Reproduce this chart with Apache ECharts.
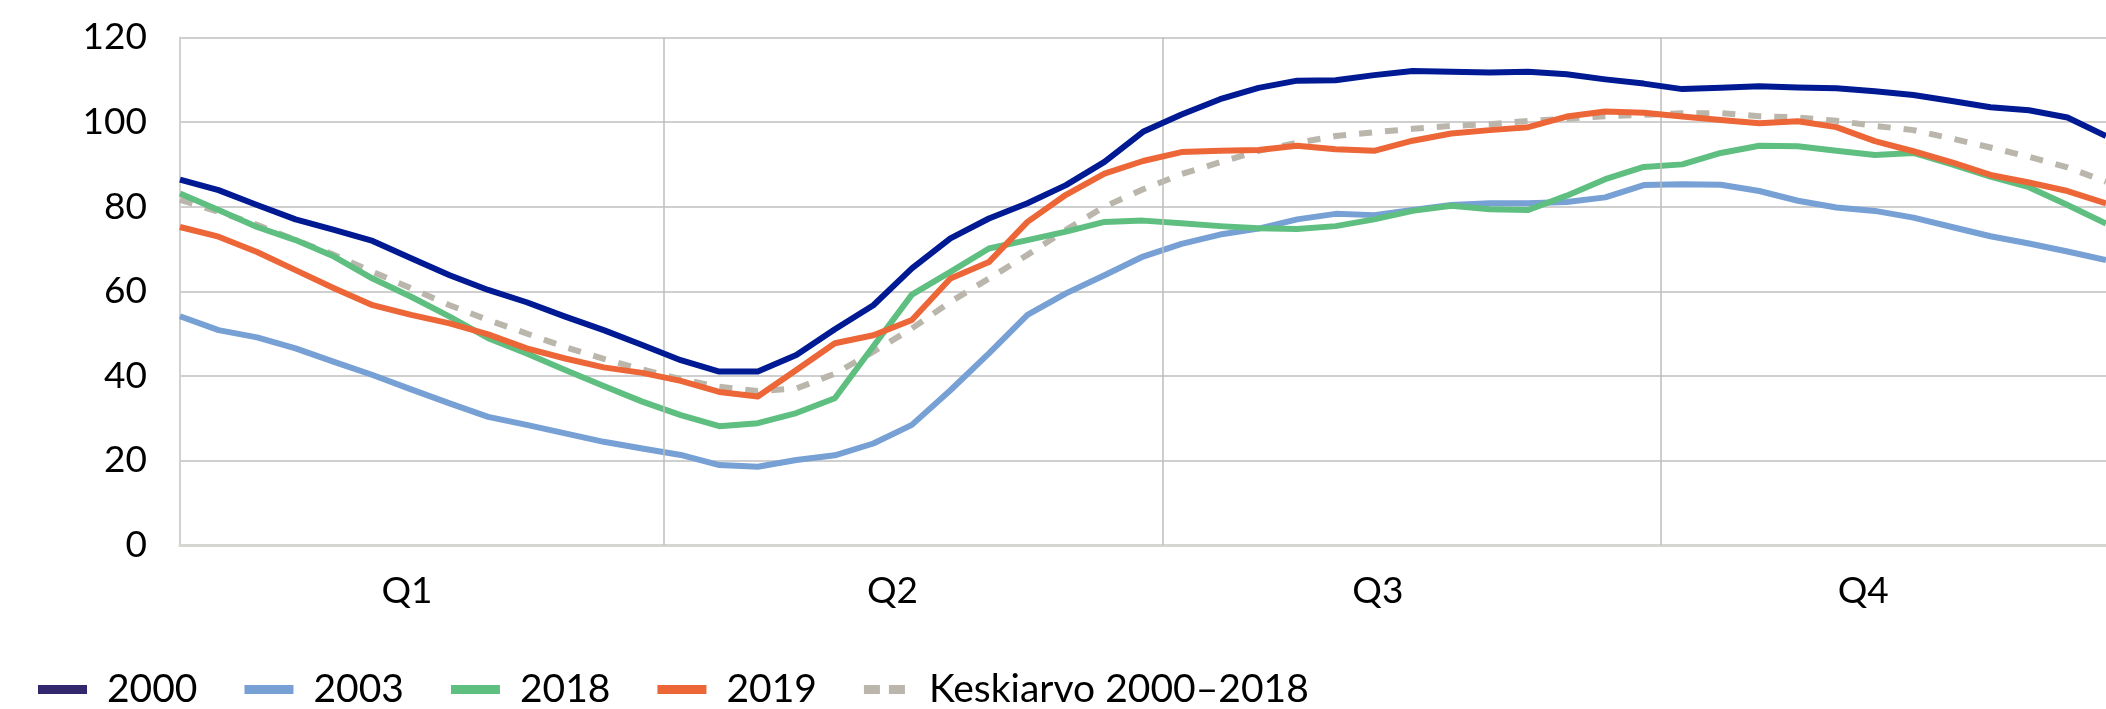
<!DOCTYPE html>
<html><head><meta charset="utf-8">
<script src="https://cdn.jsdelivr.net/npm/echarts@6/dist/echarts.min.js"></script>
<style>html,body{margin:0;padding:0;background:#fff}#c{width:2106px;height:709px}</style>
</head><body><div id="c"></div>
<script>
// Week index along the year (weekly observations)
const weeks = [0,1,2,3,4,5,6,7,8,9,10,11,12,13,14,15,16,17,18,19,20,21,22,23,24,25,26,27,28,29,30,31,32,33,34,35,36,37,38,39,40,41,42,43,44,45,46,47,48,49,50];
// Quarter boundaries (in weeks) and quarter labels
const quarterBounds = [12.55, 25.5, 38.45];
const quarters = ['Q1','Q2','Q3','Q4'];
// Y ticks
const yMin = 0, yMax = 120, yStep = 20;

const s2000 = [86.4,83.9,80.4,77.0,74.5,71.9,67.8,63.8,60.3,57.4,54.0,50.8,47.3,43.7,41.0,41.0,44.9,51.0,56.7,65.4,72.5,77.2,80.8,85.1,90.6,97.7,101.8,105.4,108.1,109.8,109.9,111.1,112.1,111.9,111.7,111.9,111.3,110.1,109.1,107.8,108.1,108.5,108.2,108.0,107.3,106.4,105.0,103.5,102.8,101.1,96.7];
const s2003 = [54.1,50.8,49.1,46.5,43.3,40.2,36.8,33.5,30.3,28.4,26.4,24.4,22.8,21.3,18.9,18.5,20.1,21.2,24.0,28.4,36.6,45.3,54.4,59.5,63.8,68.2,71.2,73.4,74.8,77.0,78.3,78.0,79.2,80.4,80.8,80.8,81.1,82.2,85.1,85.3,85.2,83.7,81.4,79.8,79.0,77.4,75.2,73.0,71.3,69.4,67.4];
const s2018 = [83.1,79.2,75.2,72.1,68.2,63.0,58.7,54.0,48.9,45.3,41.4,37.6,33.9,30.7,28.1,28.8,31.2,34.7,47.0,59.2,64.6,70.1,72.1,74.1,76.4,76.7,76.1,75.4,74.9,74.7,75.4,77.0,79.0,80.2,79.4,79.2,82.6,86.5,89.4,90.0,92.7,94.4,94.3,93.2,92.2,92.7,90.0,87.1,84.6,80.4,76.0];
const s2019 = [75.2,72.9,69.3,65.0,60.7,56.7,54.4,52.4,49.8,46.5,44.1,42.0,40.7,38.8,36.2,35.1,41.4,47.7,49.6,53.2,63.0,66.9,76.4,82.8,87.8,90.8,92.9,93.2,93.4,94.4,93.6,93.2,95.6,97.3,98.1,98.8,101.3,102.5,102.2,101.3,100.5,99.7,100.2,98.8,95.5,93.1,90.5,87.5,85.7,83.7,80.8];
const sAvg = [81.6,78.8,75.7,72.1,68.6,64.6,60.7,56.7,53.2,50.0,46.8,44.0,41.5,39.2,37.4,36.4,37.0,40.5,45.7,51.2,57.5,63.0,68.6,74.5,80.0,84.1,87.7,90.5,93.2,95.1,96.7,97.6,98.4,99.1,99.5,100.3,100.8,101.4,101.7,102.1,102.1,101.4,101.1,100.3,99.1,98.1,96.1,94.0,91.8,89.3,85.9];

const FONT = 'Lato';
const pts = arr => weeks.map((w, i) => [w, arr[i]]);
function lineSeries(name, data, color, z, extra) {
  return Object.assign({
    name, type: 'line', data: pts(data), z,
    symbol: 'none', showSymbol: false, smooth: false,
    xAxisIndex: 0, yAxisIndex: 0,
    itemStyle: { color },
    lineStyle: { color, width: 6, cap: 'butt', join: 'round' },
    emphasis: { disabled: true }
  }, extra || {});
}

const chart = echarts.init(document.getElementById('c'), null, { renderer: 'canvas' });
chart.setOption({
  animation: false,
  backgroundColor: '#ffffff',
  grid: [
    { left: 180, right: 0, top: 37.5, height: 507.5 },
    { left: 164.3, width: 1996, top: 37.5, height: 507.5 }
  ],
  xAxis: [
    { type: 'value', gridIndex: 0, min: 0, max: 50,
      axisLine: { show: true, lineStyle: { color: '#d6d6d1', width: 3 } },
      axisTick: { show: false }, axisLabel: { show: false }, splitLine: { show: false } },
    { type: 'category', gridIndex: 1, data: quarters, boundaryGap: true,
      axisLine: { show: false }, axisTick: { show: false }, splitLine: { show: false },
      axisLabel: { fontFamily: FONT, fontSize: 37, color: '#000', margin: 28 } }
  ],
  yAxis: [
    { type: 'value', gridIndex: 0, min: yMin, max: yMax, interval: yStep,
      axisLine: { show: true, lineStyle: { color: '#d2d2cd', width: 2 } },
      axisTick: { show: false },
      axisLabel: { fontFamily: FONT, fontSize: 37, color: '#000', margin: 33 },
      splitLine: { show: true, lineStyle: { color: '#cfcfcf', width: 2 } } },
    { type: 'value', gridIndex: 1, show: false, min: 0, max: 1 }
  ],
  legend: {
    left: 33, top: 665, itemWidth: 49, itemHeight: 9, itemGap: 47,
    icon: 'rect',
    textStyle: { fontFamily: FONT, fontSize: 39, color: '#000', padding: [0, 0, 0, 15] },
    data: [
      { name: '2000', itemStyle: { color: '#33276e' } },
      { name: '2003' },
      { name: '2018' },
      { name: '2019' },
      { name: 'Keskiarvo 2000\u20132018', icon: 'path://M0,0H16V9H0Z M25,0H41V9H25Z' }
    ]
  },
  series: [
    lineSeries('Keskiarvo 2000\u20132018', sAvg, '#bab6ac', 2, {
      lineStyle: { color: '#bab6ac', width: 6, type: [13, 13], cap: 'butt', join: 'round' },
      markLine: {
        silent: true, symbol: ['none', 'none'], label: { show: false },
        lineStyle: { color: '#bdbdb8', width: 1.5, type: 'solid' },
        emphasis: { disabled: true },
        data: quarterBounds.map(x => ({ xAxis: x }))
      }
    }),
    lineSeries('2003', s2003, '#77a0d5', 3),
    lineSeries('2018', s2018, '#5fbf80', 4),
    lineSeries('2019', s2019, '#ec6637', 5),
    lineSeries('2000', s2000, '#001a94', 6)
  ]
});
</script></body></html>
